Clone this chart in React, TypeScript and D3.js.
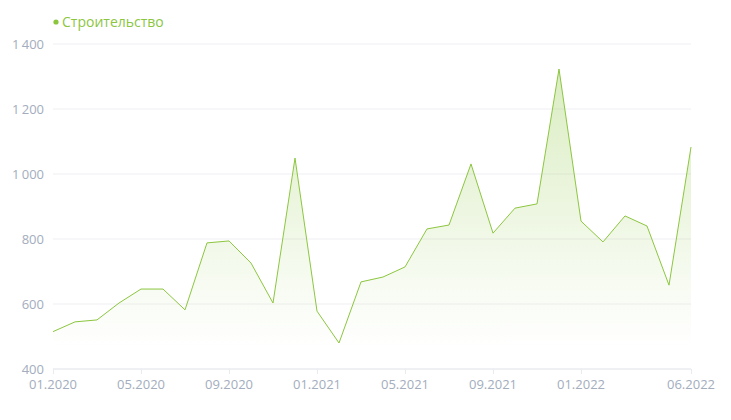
import React from "react";
import * as d3 from "d3";

const seriesName = "Строительство";
const months = [
  "01.2020", "02.2020", "03.2020", "04.2020", "05.2020", "06.2020", "07.2020", "08.2020", "09.2020", "10.2020", "11.2020", "12.2020",
  "01.2021", "02.2021", "03.2021", "04.2021", "05.2021", "06.2021", "07.2021", "08.2021", "09.2021", "10.2021", "11.2021", "12.2021",
  "01.2022", "02.2022", "03.2022", "04.2022", "05.2022", "06.2022",
];
const values = [
  515, 545, 551, 603, 646, 646, 582, 788, 794, 726, 603, 1049,
  578, 480, 668, 683, 714, 831, 843, 1031, 818, 895, 908, 1323,
  855, 791, 871, 840, 658, 1083,
];
const yTicks = [400, 600, 800, 1000, 1200, 1400];
const yTickLabels = ["400", "600", "800", "1\u2009000", "1\u2009200", "1\u2009400"];
const xTickLabels = ["01.2020", "05.2020", "09.2020", "01.2021", "05.2021", "09.2021", "01.2022", "06.2022"];

const W = 731;
const H = 420;
const left = 53;
const right = 691;
const top = 44;
const bottom = 369;
const green = "#8cc63f";
const axisText = "#a3adbd";
const font = "'Open Sans', sans-serif";

export default function App() {
  const x = d3.scaleLinear().domain([0, months.length - 1]).range([left, right]);
  const y = d3.scaleLinear().domain([400, 1400]).range([bottom, top]);
  const minV = d3.min(values) as number;
  const maxV = d3.max(values) as number;
  const base = y(minV) + 5;

  const line = d3.line<number>().x((_, i) => x(i)).y((d) => y(d));
  const area = d3
    .area<number>()
    .x((_, i) => x(i))
    .y0(base)
    .y1((d) => y(d));

  return (
    <svg width={W} height={H} style={{ position: "absolute", left: 0, top: 0 }} fontFamily={font}>
      <defs>
        <linearGradient id="fillGrad" gradientUnits="userSpaceOnUse" x1="0" y1={y(maxV)} x2="0" y2={base}>
          <stop offset="0" stopColor={green} stopOpacity={0.32} />
          <stop offset="0.8" stopColor={green} stopOpacity={0.06} />
          <stop offset="1" stopColor={green} stopOpacity={0.0} />
        </linearGradient>
      </defs>

      {/* legend */}
      <circle cx={56} cy={22} r={2.6} fill={green} />
      <text x={62} y={27} fontSize={14} fill={green}>{seriesName}</text>

      {/* horizontal grid */}
      {yTicks.slice(1).map((t) => (
        <line key={t} x1={left} x2={right} y1={y(t)} y2={y(t)} stroke="#f4f5f7" strokeWidth={1.5} />
      ))}

      {/* y labels */}
      {yTicks.map((t, i) => (
        <text key={t} x={44} y={y(t) + 4.5} fontSize={13} fill={axisText} textAnchor="end">
          {yTickLabels[i]}
        </text>
      ))}

      {/* series */}
      <path d={area(values) ?? ""} fill="url(#fillGrad)" />
      <path d={line(values) ?? ""} fill="none" stroke={green} strokeWidth={1} />

      {/* x axis */}
      <line x1={left} x2={right} y1={bottom} y2={bottom} stroke="#e8ebef" strokeWidth={1.5} />
      {xTickLabels.map((lbl) => {
        const i = months.indexOf(lbl);
        const xx = Math.round(x(i)) + 0.5;
        return (
          <g key={lbl}>
            <line x1={xx} x2={xx} y1={bottom} y2={bottom + 5} stroke="#e8ebef" strokeWidth={1} />
            <text x={x(i)} y={389} fontSize={13} fill={axisText} textAnchor="middle">{lbl}</text>
          </g>
        );
      })}
    </svg>
  );
}
